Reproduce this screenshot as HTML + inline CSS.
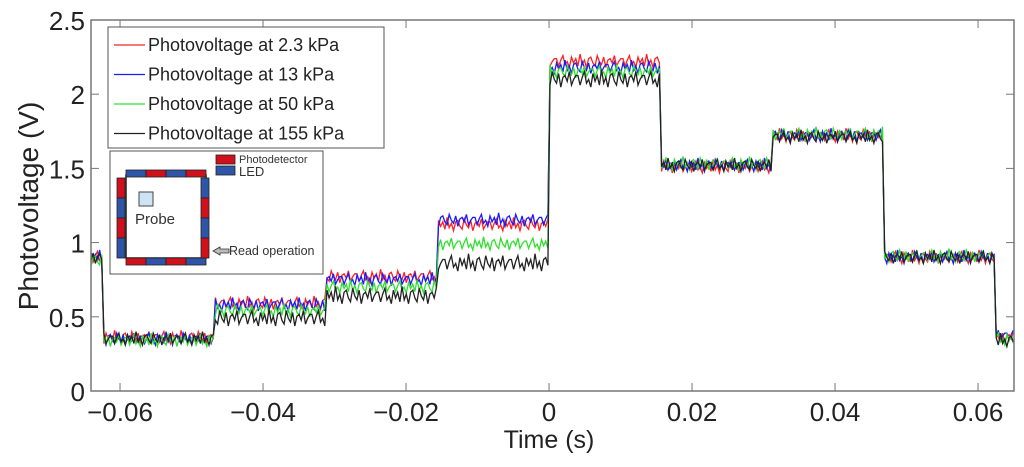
<!DOCTYPE html>
<html><head><meta charset="utf-8"><style>
body{margin:0;background:#fff;}
svg{display:block;font-family:"Liberation Sans",sans-serif;}
</style></head><body>
<svg id="chart" width="1024" height="467">
<g id="plot"></g>
<g id="axes"></g>
<text x="549" y="448" font-size="25" text-anchor="middle" fill="#222">Time (s)</text>
<text transform="translate(38,206) rotate(-90)" font-size="28" text-anchor="middle" fill="#222">Photovoltage (V)</text>
<g>
<rect x="108" y="27" width="276" height="121" fill="#fff" stroke="#555" stroke-width="1"/>
<g id="legend-items"></g>
</g>
<g>
<rect x="110" y="151" width="213" height="123" fill="#fff" stroke="#555" stroke-width="1"/>
<rect x="216" y="155" width="19" height="9" fill="#d0101a" stroke="#222" stroke-width="0.8"/>
<text x="239" y="163" font-size="11" fill="#333">Photodetector</text>
<rect x="216" y="166" width="19" height="9" fill="#2f55a8" stroke="#222" stroke-width="0.8"/>
<text x="239" y="176" font-size="13" fill="#333">LED</text>
<rect x="126" y="175" width="80" height="83" fill="#fff" stroke="#222" stroke-width="1.5"/>
<g id="inset-cells"></g>
<rect x="139" y="192" width="14" height="14" fill="#cfe3f6" stroke="#444" stroke-width="1"/>
<text x="135" y="224" font-size="15" fill="#333">Probe</text>
<path d="M213 251 L220 247 L220 249 L229 249 L229 253 L220 253 L220 255 Z" fill="#bbb" stroke="#333" stroke-width="0.8"/>
<text x="229" y="255" font-size="12.5" fill="#333">Read operation</text>
</g>
</svg>
<script>
const boundaries=[-0.0625,-0.0469,-0.0313,-0.0156,0,0.0156,0.0313,0.0469,0.0625];
const red  =[0.90,0.36,0.59,0.77,1.12,2.22,1.51,1.72,0.90,0.36];
const blue =[0.90,0.35,0.58,0.75,1.15,2.18,1.52,1.72,0.90,0.37];
const green=[0.88,0.34,0.54,0.70,0.99,2.15,1.53,1.73,0.91,0.35];
const black=[0.90,0.35,0.49,0.64,0.86,2.10,1.52,1.71,0.90,0.34];
const noise=[0.02,-0.03,0.01,0.04,-0.02,0.00,-0.04,0.03,-0.01,0.02,-0.03,0.05,-0.02,0.01,-0.04,0.02,0.03,-0.01,-0.03,0.04,0.00,-0.02,0.03,-0.04,0.01,0.02,-0.01,0.04,-0.03,0.00,0.02];
const xTicks=[-0.06,-0.04,-0.02,0,0.02,0.04,0.06];
const xTickLabels=["\u22120.06","\u22120.04","\u22120.02","0","0.02","0.04","0.06"];
const yTicks=[0,0.5,1,1.5,2,2.5];
const yTickLabels=["0","0.5","1","1.5","2","2.5"];
const seriesNames=["Photovoltage at 2.3 kPa","Photovoltage at 13 kPa","Photovoltage at 50 kPa","Photovoltage at 155 kPa"];
const seriesColors=["#ff2020","#1a1aff","#30e030","#222222"];
const tMin=-0.06406,tMax=0.06503,vMin=0,vMax=2.5;
const X0=91,X1=1014,Y0=391,Y1=20;
const xs=t=>X0+(t-tMin)/(tMax-tMin)*(X1-X0);
const ys=v=>Y0-(v-vMin)/(vMax-vMin)*(Y0-Y1);
const NS="http://www.w3.org/2000/svg";
const plot=document.getElementById('plot'),axes=document.getElementById('axes');
function mk(tag,attrs,parent){const e=document.createElementNS(NS,tag);for(const k in attrs)e.setAttribute(k,attrs[k]);parent.appendChild(e);return e;}
const series=[red,blue,green,black];
series.forEach((lv,si)=>{
  let d="";const step=0.0003;let k=si*7;
  for(let t=tMin;t<=tMax;t+=step){
    let seg=0;while(seg<boundaries.length&&t>=boundaries[seg])seg++;
    const amp=(si===3&&seg>=2&&seg<=5)?1.3:1;
    const v=lv[seg]+noise[(k++)%noise.length]*amp;
    d+=(d?"L":"M")+xs(t).toFixed(1)+" "+ys(v).toFixed(1);
  }
  const p=mk('path',{d:d,fill:'none',stroke:seriesColors[si],'stroke-width':1.3},plot);
  
  
});
const fr=mk('path',{d:`M${X0} ${Y1}L${X0} ${Y0}L${X1} ${Y0}L${X1} ${Y1}Z`,fill:'none',stroke:'#777','stroke-width':1.5},axes);


xTicks.forEach((t,i)=>{
  const x=xs(t);
  mk('line',{x1:x,x2:x,y1:Y0,y2:Y0-8,stroke:'#777'},axes);
  mk('line',{x1:x,x2:x,y1:Y1,y2:Y1+8,stroke:'#777'},axes);
  const tx=mk('text',{x:x,y:421,'font-size':26,'text-anchor':'middle',fill:'#222'},axes);
  tx.textContent=xTickLabels[i];
  
  
});
yTicks.forEach((v,i)=>{
  const y=ys(v);
  mk('line',{x1:X0,x2:X0+8,y1:y,y2:y,stroke:'#777'},axes);
  mk('line',{x1:X1,x2:X1-8,y1:y,y2:y,stroke:'#777'},axes);
  const tx=mk('text',{x:85,y:y+10,'font-size':26,'text-anchor':'end',fill:'#222'},axes);
  tx.textContent=yTickLabels[i];
  
  
});
const lg=document.getElementById('legend-items');
seriesNames.forEach((n,i)=>{
  const y=45+i*29.5;
  mk('line',{x1:114,x2:145,y1:y,y2:y,stroke:seriesColors[i],'stroke-width':1.3},lg);
  const tx=mk('text',{x:148,y:y+6,'font-size':18,fill:'#222'},lg);
  tx.textContent=n;
  
  
});
const ic=document.getElementById('inset-cells');
const R="#d0101a",B="#2f55a8";
const cells=[
 [126,170,20,7,B],[146,170,20,7,R],[166,170,20,7,B],[186,170,20,7,R],
 [126,258,20,7,R],[146,258,20,7,B],[166,258,20,7,R],[186,258,20,7,B],
 [117,178,8,20,R],[117,198,8,20,B],[117,218,8,20,R],[117,238,8,20,B],
 [201,178,8,20,B],[201,198,8,20,R],[201,218,8,20,B],[201,238,8,20,R]];
cells.forEach(c=>{mk('rect',{x:c[0],y:c[1],width:c[2],height:c[3],fill:c[4],stroke:'#222','stroke-width':0.8},ic);});
</script>
</body></html>
